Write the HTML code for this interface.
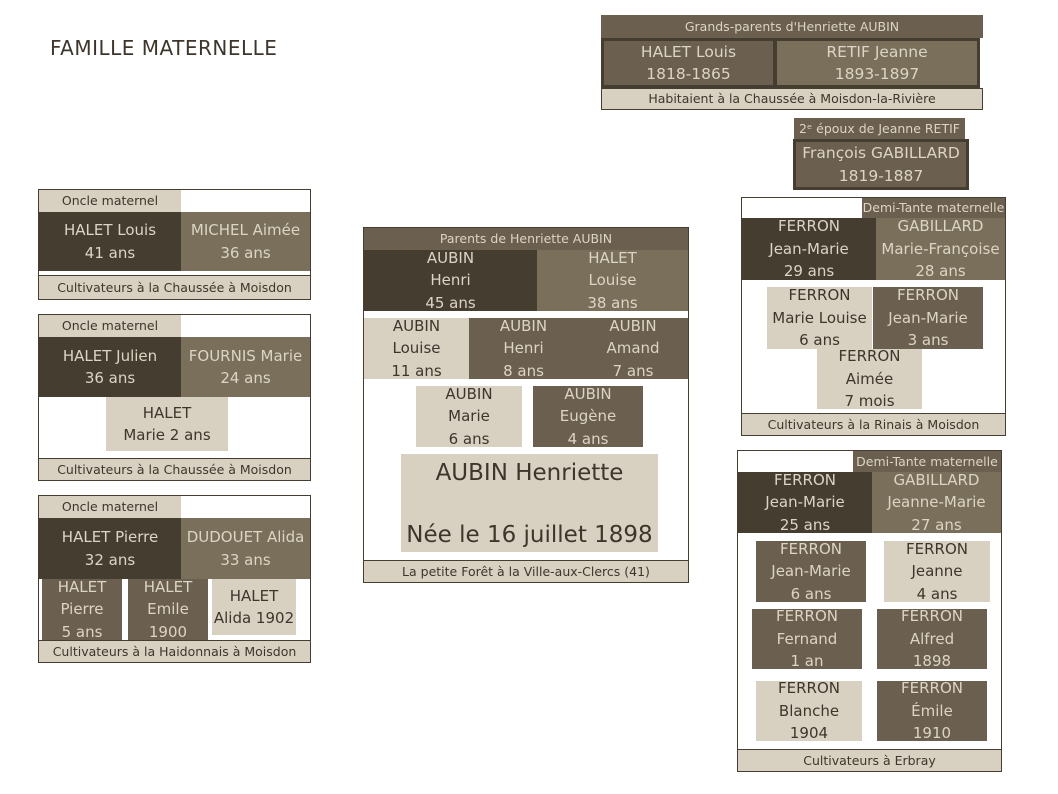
<!DOCTYPE html>
<html><head><meta charset="utf-8"><style>
body{margin:0;width:1058px;height:794px;background:#fff;position:relative;overflow:hidden;font-family:"DejaVu Sans","Liberation Sans",sans-serif;}
.c{position:absolute;box-sizing:border-box;display:flex;flex-direction:column;justify-content:center;align-items:center;text-align:center;font-size:15px;line-height:22.5px;white-space:nowrap;overflow:hidden}
.d{background:#463d31;color:#dcd4c4}
.m{background:#7a6f5b;color:#dcd4c4}
.g{background:#6b5f50;color:#dcd4c4}
.l{background:#d8d0c0;color:#3e362c}
.s{font-size:12.5px;line-height:20px}
.box{position:absolute;box-sizing:border-box;border:1px solid #463d31;background:#fff}
</style></head><body>
<div style="position:absolute;left:50px;top:36px;font-size:20px;color:#3e362c;letter-spacing:0.5px">FAMILLE MATERNELLE</div>

<div class="c g s" style="left:601px;top:15px;width:382px;height:23px">Grands-parents d'Henriette AUBIN</div>
<div style="position:absolute;left:601px;top:38px;width:379px;height:50px;box-sizing:border-box;border:3px solid #463d31;background:#463d31"></div>
<div class="c g" style="left:604px;top:41px;width:169px;height:44px;font-size:15.5px">HALET Louis<br>1818-1865</div>
<div class="c m" style="left:777px;top:41px;width:200px;height:44px;font-size:15.5px">RETIF Jeanne<br>1893-1897</div>
<div class="c l s" style="left:601px;top:88px;width:382px;height:22px;border:1px solid #463d31">Habitaient à la Chaussée à Moisdon-la-Rivière</div>

<div class="c g s" style="left:794px;top:118px;width:171px;height:21px">2ᵉ époux de Jeanne RETIF</div>
<div class="c g" style="left:793px;top:139px;width:176px;height:51px;border:3px solid #463d31;font-size:15.5px">François GABILLARD<br>1819-1887</div>

<div class="box" style="left:38px;top:189px;width:273px;height:111px"></div>
<div class="c l s" style="left:39px;top:190px;width:142px;height:22px">Oncle maternel</div>
<div class="c d" style="left:39px;top:212px;width:142px;height:59px">HALET Louis<br>41 ans</div>
<div class="c m" style="left:181px;top:212px;width:129px;height:59px">MICHEL Aimée<br>36 ans</div>
<div class="c l s" style="left:39px;top:275px;width:271px;height:24px;border-top:1px solid #463d31">Cultivateurs à la Chaussée à Moisdon</div>

<div class="box" style="left:38px;top:314px;width:273px;height:167px"></div>
<div class="c l s" style="left:39px;top:315px;width:142px;height:22px">Oncle maternel</div>
<div class="c d" style="left:39px;top:337px;width:142px;height:60px">HALET Julien<br>36 ans</div>
<div class="c m" style="left:181px;top:337px;width:129px;height:60px">FOURNIS Marie<br>24 ans</div>
<div class="c l" style="left:106px;top:397px;width:122px;height:54px">HALET<br>Marie 2 ans</div>
<div class="c l s" style="left:39px;top:458px;width:271px;height:22px;border-top:1px solid #463d31">Cultivateurs à la Chaussée à Moisdon</div>

<div class="box" style="left:38px;top:495px;width:273px;height:168px"></div>
<div class="c l s" style="left:39px;top:496px;width:142px;height:22px">Oncle maternel</div>
<div class="c d" style="left:39px;top:518px;width:142px;height:61px">HALET Pierre<br>32 ans</div>
<div class="c m" style="left:181px;top:518px;width:129px;height:61px">DUDOUET Alida<br>33 ans</div>
<div class="c g" style="left:42px;top:579px;width:80px;height:61px">HALET<br>Pierre<br>5 ans</div>
<div class="c g" style="left:128px;top:579px;width:80px;height:61px">HALET<br>Emile<br>1900</div>
<div class="c l" style="left:212px;top:579px;width:84px;height:56px">HALET<br>Alida 1902</div>
<div class="c l s" style="left:39px;top:640px;width:271px;height:22px;border-top:1px solid #463d31">Cultivateurs à la Haidonnais à Moisdon</div>

<div class="box" style="left:363px;top:227px;width:326px;height:356px"></div>
<div class="c g s" style="left:364px;top:228px;width:324px;height:22px">Parents de Henriette AUBIN</div>
<div class="c d" style="left:364px;top:250px;width:173px;height:61px">AUBIN<br>Henri<br>45 ans</div>
<div class="c m" style="left:537px;top:250px;width:151px;height:61px">HALET<br>Louise<br>38 ans</div>
<div class="c l" style="left:364px;top:318px;width:105px;height:61px">AUBIN<br>Louise<br>11 ans</div>
<div class="c g" style="left:469px;top:318px;width:109px;height:61px">AUBIN<br>Henri<br>8 ans</div>
<div class="c g" style="left:578px;top:318px;width:110px;height:61px">AUBIN<br>Amand<br>7 ans</div>
<div class="c l" style="left:416px;top:386px;width:106px;height:61px">AUBIN<br>Marie<br>6 ans</div>
<div class="c g" style="left:533px;top:386px;width:110px;height:61px">AUBIN<br>Eugène<br>4 ans</div>
<div class="c l" style="left:401px;top:454px;width:257px;height:98px;font-size:23px;line-height:34px;justify-content:space-between;padding:2px 0 0">
<span>AUBIN Henriette</span><span>Née le 16 juillet 1898</span></div>
<div class="c l s" style="left:364px;top:560px;width:324px;height:22px;border-top:1px solid #463d31">La petite Forêt à la Ville-aux-Clercs (41)</div>

<div class="box" style="left:741px;top:197px;width:265px;height:239px"></div>
<div class="c g s" style="left:862px;top:198px;width:143px;height:20px">Demi-Tante maternelle</div>
<div class="c d" style="left:742px;top:218px;width:134px;height:62px">FERRON<br>Jean-Marie<br>29 ans</div>
<div class="c m" style="left:876px;top:218px;width:129px;height:62px">GABILLARD<br>Marie-Françoise<br>28 ans</div>
<div class="c l" style="left:767px;top:287px;width:105px;height:62px">FERRON<br>Marie Louise<br>6 ans</div>
<div class="c g" style="left:873px;top:287px;width:110px;height:62px">FERRON<br>Jean-Marie<br>3 ans</div>
<div class="c l" style="left:817px;top:349px;width:105px;height:60px">FERRON<br>Aimée<br>7 mois</div>
<div class="c l s" style="left:742px;top:413px;width:263px;height:22px;border-top:1px solid #463d31">Cultivateurs à la Rinais à Moisdon</div>

<div class="box" style="left:737px;top:450px;width:265px;height:322px"></div>
<div class="c g s" style="left:853px;top:451px;width:148px;height:21px">Demi-Tante maternelle</div>
<div class="c d" style="left:738px;top:472px;width:134px;height:61px">FERRON<br>Jean-Marie<br>25 ans</div>
<div class="c m" style="left:872px;top:472px;width:129px;height:61px">GABILLARD<br>Jeanne-Marie<br>27 ans</div>
<div class="c g" style="left:756px;top:541px;width:110px;height:61px">FERRON<br>Jean-Marie<br>6 ans</div>
<div class="c l" style="left:884px;top:541px;width:106px;height:61px">FERRON<br>Jeanne<br>4 ans</div>
<div class="c g" style="left:752px;top:609px;width:110px;height:60px">FERRON<br>Fernand<br>1 an</div>
<div class="c g" style="left:877px;top:609px;width:110px;height:60px">FERRON<br>Alfred<br>1898</div>
<div class="c l" style="left:756px;top:681px;width:106px;height:60px">FERRON<br>Blanche<br>1904</div>
<div class="c g" style="left:877px;top:681px;width:110px;height:60px">FERRON<br>Émile<br>1910</div>
<div class="c l s" style="left:738px;top:749px;width:263px;height:22px;border-top:1px solid #463d31">Cultivateurs à Erbray</div>
</body></html>
